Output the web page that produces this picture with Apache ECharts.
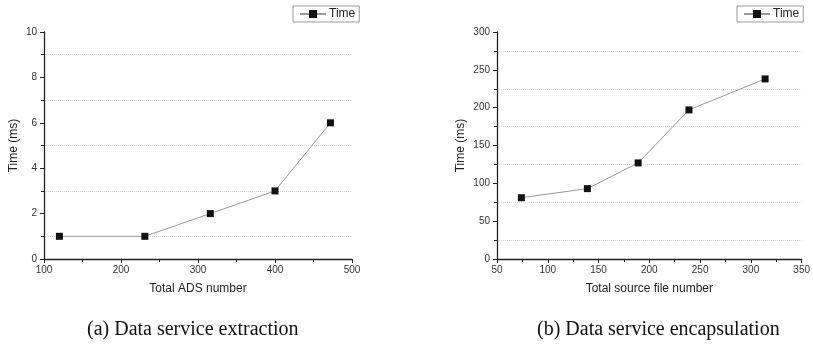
<!DOCTYPE html>
<html>
<head>
<meta charset="utf-8">
<script src="https://cdn.jsdelivr.net/npm/echarts@6/dist/echarts.min.js"></script>
<style>html,body{margin:0;padding:0;background:#fff;}#c{width:813px;height:347px;}</style>
</head>
<body>
<div id="c"></div>
<script>
// Chart (a): Data service extraction
var adsNumber = [120, 231, 316, 400, 472];
var extractionTime = [1, 1, 2, 3, 6];
// Chart (b): Data service encapsulation
var sourceFileNumber = [74, 139, 189, 239, 314];
var encapsulationTime = [81, 93, 127, 197, 238];

var seriesName = 'Time';
var captionA = '(a) Data service extraction';
var captionB = '(b) Data service encapsulation';

function pairs(xs, ys) { return xs.map(function (x, i) { return [x, ys[i]]; }); }

var axisColor = '#222';
var labelStyle = { color: '#333', fontSize: 10, fontFamily: 'Liberation Sans, Arial, sans-serif' };
var nameStyle = { color: '#222', fontSize: 12, fontFamily: 'Liberation Sans, Arial, sans-serif' };

function xAxisCfg(idx, min, max, interval, name) {
  return {
    type: 'value', gridIndex: idx, min: min, max: max, interval: interval,
    name: name, nameLocation: 'middle', nameGap: 24, nameTextStyle: nameStyle,
    axisLine: { show: true, lineStyle: { color: axisColor, width: 1.3 } },
    axisTick: { show: true, length: 4, lineStyle: { color: axisColor } },
    minorTick: { show: true, splitNumber: 2, length: 3, lineStyle: { color: axisColor } },
    axisLabel: Object.assign({ margin: 6 }, labelStyle),
    splitLine: { show: false }
  };
}
function yAxisCfg(idx, min, max, interval, gap) {
  return {
    type: 'value', gridIndex: idx, min: min, max: max, interval: interval,
    name: 'Time (ms)', nameLocation: 'middle', nameRotate: 90, nameGap: gap, nameTextStyle: nameStyle,
    axisLine: { show: true, lineStyle: { color: axisColor, width: 1.3 } },
    axisTick: { show: true, length: 4, lineStyle: { color: axisColor } },
    minorTick: { show: true, splitNumber: 2, length: 3, lineStyle: { color: axisColor } },
    axisLabel: Object.assign({ margin: 7 }, labelStyle),
    splitLine: { show: false },
    minorSplitLine: { show: true, lineStyle: { color: '#d8d8d8', type: 'dotted', width: 1 } }
  };
}
function seriesCfg(idx, data) {
  return {
    name: seriesName, type: 'line', xAxisIndex: idx, yAxisIndex: idx, data: data,
    symbol: 'rect', symbolSize: 7, showSymbol: true,
    lineStyle: { color: '#999', width: 1 },
    itemStyle: { color: '#111' },
    animation: false
  };
}
function legendCfg(left) {
  return {
    left: left, top: 6, orient: 'horizontal',
    data: [seriesName],
    itemWidth: 26, itemHeight: 10, itemGap: 4,
    padding: [2, 4, 2, 6],
    borderColor: '#999', borderWidth: 1,
    textStyle: { color: '#222', fontSize: 12, fontFamily: 'Liberation Sans, Arial, sans-serif', padding: [0, 0, 0, -2] }
  };
}

var chart = echarts.init(document.getElementById('c'), null, { renderer: 'canvas' });
chart.setOption({
  animation: false,
  backgroundColor: '#fff',
  legend: [legendCfg(293), legendCfg(737)],
  grid: [
    { left: 44, top: 32, width: 308, height: 227 },
    { left: 497, top: 32, width: 308, height: 227 }
  ],
  xAxis: [
    xAxisCfg(0, 100, 500, 100, 'Total ADS number'),
    xAxisCfg(1, 50, 350, 50, 'Total source file number')
  ],
  yAxis: [
    yAxisCfg(0, 0, 10, 2, 24),
    yAxisCfg(1, 0, 300, 50, 30)
  ],
  series: [
    seriesCfg(0, pairs(adsNumber, extractionTime)),
    seriesCfg(1, pairs(sourceFileNumber, encapsulationTime))
  ],
  graphic: [
    { type: 'text', left: 200 - 113, top: 320, style: { text: captionA, fill: '#111', font: '20px "Liberation Serif", "Times New Roman", serif' } },
    { type: 'text', left: 662 - 125, top: 320, style: { text: captionB, fill: '#111', font: '20px "Liberation Serif", "Times New Roman", serif' } }
  ]
});
</script>
</body>
</html>
